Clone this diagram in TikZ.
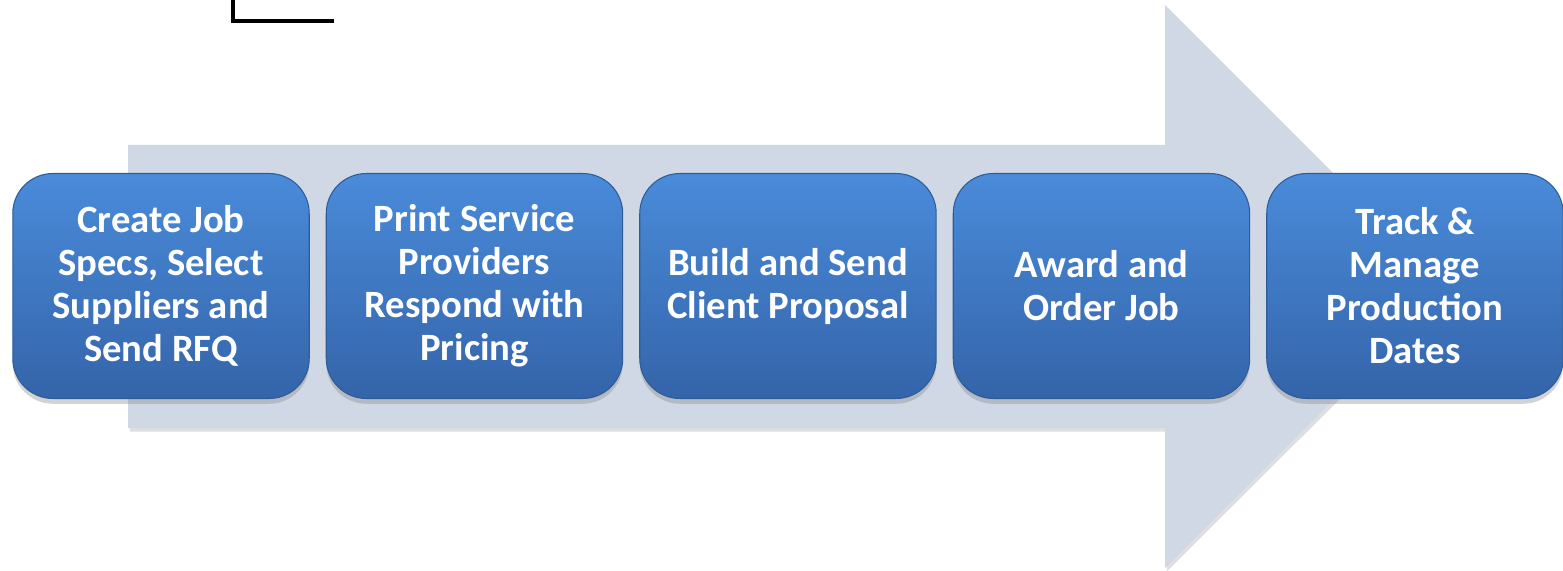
\documentclass[tikz,border=0pt]{standalone}
\usepackage{fontspec}
\setmainfont{Carlito}
\usetikzlibrary{positioning,shadows}
\definecolor{arrowfill}{HTML}{D0D8E6}
\definecolor{boxtop}{HTML}{4A8BDA}
\definecolor{boxbot}{HTML}{3464A9}
\definecolor{boxline}{HTML}{2D5C98}

\begin{document}
\begin{tikzpicture}[x=0.02cm,y=-0.02cm]
\tikzset{
  stage/.style={draw=boxline, line width=0.6pt, rounded corners=0.8cm,
    top color=boxtop, bottom color=boxbot,
    minimum width=5.93cm, minimum height=4.5cm, inner sep=0pt,
    align=center, text=white,
    font=\fontsize{22}{24.5}\selectfont\bfseries,
    drop shadow={shadow xshift=0pt, shadow yshift=-3pt, opacity=0.35}},
  stagegap/.style={right=0.32cm of #1}
}
\useasboundingbox (0,0) rectangle (1563,571);
% big background arrow
\fill[arrowfill, drop shadow={shadow xshift=1pt, shadow yshift=-2pt, opacity=0.25}]
  (128,145) -- (1165,145) -- (1165,5) -- (1447,287) -- (1165,568)
  -- (1165,428) -- (128,428) -- cycle;
% corner mark
\draw[line width=2.8pt] (233,0) -- (233,21) -- (334,21);
% the five stages
\node[stage] (create) at (161,286) {Create Job\\Specs, Select\\Suppliers and\\Send RFQ};
\node[stage, stagegap=create] (respond) {Print Service\\Providers\\Respond with\\Pricing};
\node[stage, stagegap=respond] (proposal) {Build and Send\\Client Proposal};
\node[stage, stagegap=proposal] (award) {Award and\\Order Job};
\node[stage, stagegap=award] (track) {Track \&\\Manage\\Production\\Dates};
\end{tikzpicture}
\end{document}
